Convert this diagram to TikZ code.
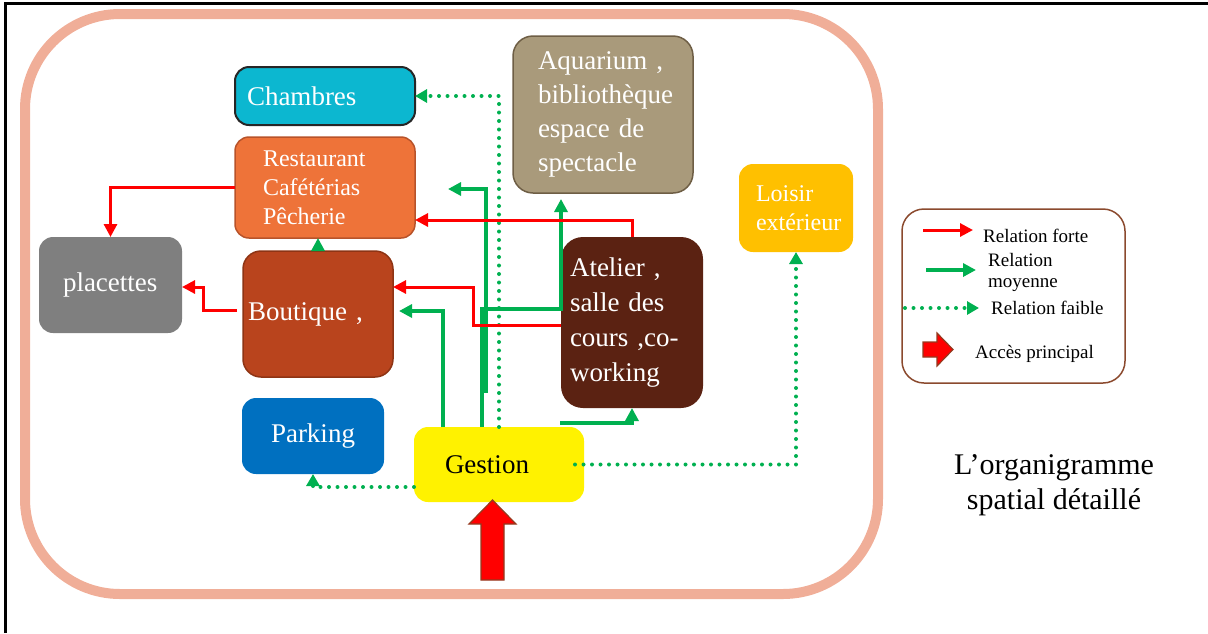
\documentclass[tikz,border=0pt]{standalone}
\usepackage{fontspec}
\setmainfont{Liberation Serif}
\usetikzlibrary{arrows.meta, positioning}
\definecolor{relred}{HTML}{FF0000}
\definecolor{relgreen}{HTML}{00B050}
\definecolor{salmon}{HTML}{F0AE98}
\definecolor{cyanbox}{HTML}{0CB7D0}
\definecolor{orangebox}{HTML}{EE7339}
\definecolor{orangeline}{HTML}{B8532A}
\definecolor{tanbox}{HTML}{A99A7B}
\definecolor{tanline}{HTML}{6E5E45}
\definecolor{goldbox}{HTML}{FFC000}
\definecolor{greybox}{HTML}{7F7F7F}
\definecolor{rustbox}{HTML}{B9441D}
\definecolor{rustline}{HTML}{8E3414}
\definecolor{brownbox}{HTML}{5B2212}
\definecolor{bluebox}{HTML}{0070C0}
\definecolor{legendline}{HTML}{8B4A2E}
\definecolor{accessline}{HTML}{943A1F}
\hyphenpenalty=10000
\exhyphenpenalty=10000
\newcommand{\boxfont}{\fontsize{27}{34}\selectfont}
\newcommand{\midfont}{\fontsize{24}{29}\selectfont}
\newcommand{\legfont}{\fontsize{19}{21}\selectfont}
\newcommand{\titlefont}{\fontsize{30}{35}\selectfont}

\begin{document}
\begin{tikzpicture}[x=1pt, y=-1pt,
    box/.style={rounded corners=14pt, text=white, align=left, inner ysep=0pt, outer sep=0pt, font=\boxfont},
    strong/.style={draw=relred, line width=3pt, -{Triangle[length=13pt, width=13pt]}},
    medium/.style={draw=relgreen, line width=3.2pt, -{Triangle[length=13pt, width=13pt]}},
    weak/.style={draw=relgreen, line width=4pt, line cap=round, dash pattern=on 0pt off 8.5pt, -{Triangle[length=12pt, width=13pt]}},
    access/.style={fill=relred, draw=accessline, line width=1.2pt}]
  \useasboundingbox (0,0) rectangle (1208,633);
  % cadre
  \draw[line width=3pt] (5,633) -- (5,3) -- (1208,3);
  \draw[salmon, line width=10pt, rounded corners=95pt] (25,14) rectangle (878,594);

  % espaces
  \node[box, fill=cyanbox, draw=black!85, line width=2pt, text width=156pt, inner xsep=12pt, minimum height=58pt] (chambres) at (325,96) {Chambres};
  \node[box, fill=orangebox, draw=orangeline, line width=1.5pt, text width=124pt, inner xsep=28pt, minimum height=101pt, font=\midfont] (restaurant) at (325,187.5) {Restaurant\\Cafétérias\\Pêcherie};
  \node[box, fill=tanbox, draw=tanline, line width=1.5pt, text width=130pt, inner xsep=25pt, minimum height=157pt, rounded corners=20pt] (aquarium) at (603,114.5) {Aquarium ,\\bibliothèque\\espace de\\spectacle};
  \node[box, fill=goldbox, text width=80pt, inner xsep=17pt, minimum height=88pt, font=\midfont] (loisir) at (796,208) {Loisir\\extérieur};
  \node[box, fill=greybox, text width=95pt, inner xsep=24pt, minimum height=96pt] (placettes) at (110.5,285) {placettes};
  \node[box, fill=rustbox, draw=rustline, line width=1.5pt, text width=140pt, inner xsep=5pt, minimum height=126pt, rounded corners=18pt] (boutique) at (318,314) {Boutique ,};
  \node[box, fill=brownbox, text width=124pt, inner xsep=9pt, minimum height=171pt, rounded corners=22pt, font=\fontsize{27}{35}\selectfont] (atelier) at (632,322.5) {Atelier ,\\salle des\\cours ,co-\\working};
  \node[box, fill=bluebox, align=center, minimum width=142pt, minimum height=76pt] (parking) at (313,436) {Parking};
  \node[box, fill=yellow, text=black, text width=108pt, inner xsep=31pt, minimum height=75pt] (gestion) at (499,464.5) {Gestion};

  % relations
  \coordinate (gr1) at (486,393);
  \coordinate (gr2) at (448,189);
  \coordinate (ga) at (560,423);
  \draw[weak] (gestion.north) |- (chambres.east);
  \draw[medium] (gr1) |- (gr2);
  \draw[medium, shorten >=6pt] ([xshift=-17pt]gestion.north) -- ++(0,-118) -| ([xshift=-42pt]aquarium.south);
  \draw[medium, shorten >=6pt] ([xshift=-56pt]gestion.north) |- ([yshift=3pt]boutique.east);
  \draw[medium] (ga) -| (atelier.south);
  \draw[weak] ([yshift=-22.5pt]gestion.west) -| (parking.south);
  \draw[weak] ([xshift=-9pt]gestion.east) -| (loisir.south);
  \draw[medium] (boutique.north) -- (boutique.north |- restaurant.south);
  \draw[strong] (atelier.north) |- ([yshift=-32.5pt]restaurant.east);
  \draw[strong] ([yshift=-2.5pt]atelier.west) -- ++(-88,0) |- ([yshift=27pt]boutique.east);
  \draw[strong] (restaurant.west) -| (placettes.north);
  \draw[strong] ([xshift=-6pt, yshift=4pt]boutique.west) -- ++(-34,0) |- ([yshift=-2pt]placettes.east);

  % acces principal
  \draw[access] (481,580) -- (481,524) -- (469,524) -- (492.5,500) -- (516,524) -- (504,524) -- (504,580) -- cycle;

  % legende
  \node[draw=legendline, line width=1.5pt, rounded corners=22pt, minimum width=223pt, minimum height=174pt] (legend) at (1013.5,296) {};
  \draw[strong] (923,230) -- (973,230);
  \draw[medium, line width=4.5pt] (926,270) -- (976,270);
  \draw[weak] (905,308) -- (979,308);
  \draw[access] (923,342) -- (937,342) -- (937,333) -- (953,349.5) -- (937,366) -- (937,357) -- (923,357) -- cycle;
  \node[anchor=west, font=\legfont, inner sep=0pt] (forte) at (983,236) {Relation forte};
  \node[anchor=west, font=\legfont, inner sep=0pt, align=left] (moyenne) at (988,272) {Relation\\moyenne};
  \node[anchor=west, font=\legfont, inner sep=0pt] (faible) at (991,308) {Relation faible};
  \node[anchor=west, font=\legfont, inner sep=0pt] (principal) at (975,354) {Accès principal};

  \node[font=\titlefont, align=center] (titre) at (1054,485) {L’organigramme\\spatial détaillé};
\end{tikzpicture}
\end{document}
